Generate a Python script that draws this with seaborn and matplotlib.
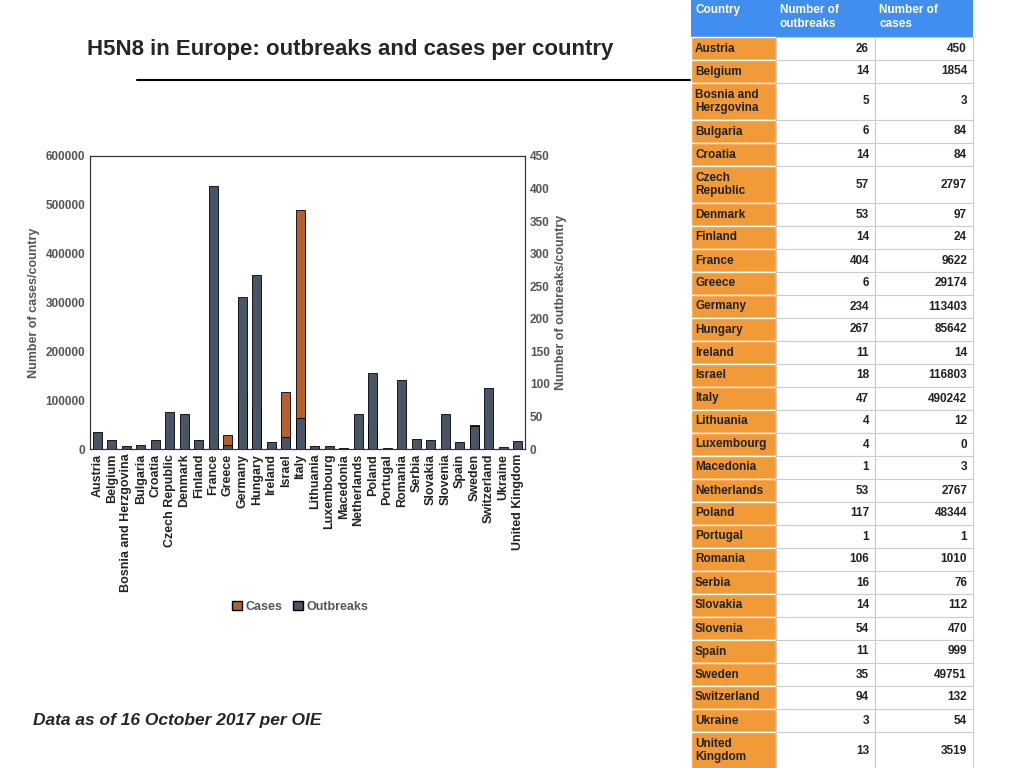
import matplotlib
matplotlib.use("Agg")
import matplotlib.pyplot as plt
import seaborn as sns
import pandas as pd
from matplotlib.patches import Rectangle, Patch

countries = ["Austria", "Belgium", "Bosnia and Herzgovina", "Bulgaria", "Croatia", "Czech Republic",
             "Denmark", "Finland", "France", "Greece", "Germany", "Hungary", "Ireland", "Israel", "Italy",
             "Lithuania", "Luxembourg", "Macedonia", "Netherlands", "Poland", "Portugal", "Romania",
             "Serbia", "Slovakia", "Slovenia", "Spain", "Sweden", "Switzerland", "Ukraine", "United Kingdom"]
table_names = ["Austria", "Belgium", "Bosnia and\nHerzgovina", "Bulgaria", "Croatia", "Czech\nRepublic",
               "Denmark", "Finland", "France", "Greece", "Germany", "Hungary", "Ireland", "Israel", "Italy",
               "Lithuania", "Luxembourg", "Macedonia", "Netherlands", "Poland", "Portugal", "Romania",
               "Serbia", "Slovakia", "Slovenia", "Spain", "Sweden", "Switzerland", "Ukraine", "United\nKingdom"]
outbreaks = [26, 14, 5, 6, 14, 57, 53, 14, 404, 6, 234, 267, 11, 18, 47, 4, 4, 1, 53, 117, 1, 106,
             16, 14, 54, 11, 35, 94, 3, 13]
cases = [450, 1854, 3, 84, 84, 2797, 97, 24, 9622, 29174, 113403, 85642, 14, 116803, 490242, 12, 0, 3,
         2767, 48344, 1, 1010, 76, 112, 470, 999, 49751, 132, 54, 3519]

df = pd.DataFrame({"country": countries, "cases": cases, "outbreaks": outbreaks})
sns.set_theme(style="white")
plt.rcParams['font.family'] = ['Liberation Sans', 'DejaVu Sans']

W, H = 1024, 768
fig = plt.figure(figsize=(10.24, 7.68), dpi=100)
C_CASES = "#b5602c"
C_OUT = "#4a5467"
grey = "#555555"

ax = fig.add_axes([90 / W, (H - 449) / H, 435 / W, 293 / H])
sns.barplot(data=df, x="country", y="cases", color=C_CASES, width=0.6, edgecolor="black",
            linewidth=0.6, saturation=1, ax=ax)
ax.set_ylim(0, 600000)
ax.set_yticks(range(0, 600001, 100000))
ax2 = ax.twinx()
sns.barplot(data=df, x="country", y="outbreaks", color=C_OUT, width=0.6, edgecolor="black",
            linewidth=0.6, saturation=1, ax=ax2)
ax2.set_ylim(0, 450)
ax2.set_yticks(range(0, 451, 50))
ax.set_xlabel("")
ax.set_ylabel("Number of cases/country", fontsize=9, fontweight="bold", color=grey)
ax2.set_ylabel("Number of outbreaks/country", fontsize=9, fontweight="bold", color=grey)
ax.tick_params(axis="x", rotation=90, labelsize=9, colors="#222222", length=0)
for a in (ax, ax2):
    a.tick_params(axis="y", labelsize=8.5, colors=grey, length=0)
    for t in a.get_yticklabels():
        t.set_fontweight("bold")
    for s in a.spines.values():
        s.set_color("#333333")
        s.set_linewidth(0.8)
for t in ax.get_xticklabels():
    t.set_fontweight("bold")

fig.legend(handles=[Patch(facecolor=C_CASES, edgecolor="black", label="Cases"),
                    Patch(facecolor=C_OUT, edgecolor="black", label="Outbreaks")],
           loc="center", bbox_to_anchor=(300 / W, 1 - 607 / H), ncol=2, frameon=False,
           fontsize=9, handlelength=0.8, handletextpad=0.3, columnspacing=0.8,
           prop={"weight": "bold", "size": 9})
for t in fig.legends[0].get_texts():
    t.set_color(grey)

fig.text(87 / W, 1 - 50 / H, "H5N8 in Europe: outbreaks and cases per country", fontsize=16,
         fontweight="bold", va="center", ha="left")
fig.add_artist(plt.Line2D([137 / W, 690 / W], [1 - 80 / H, 1 - 80 / H], color="black", lw=1.5))
fig.text(33 / W, 1 - 720 / H, "Data as of 16 October 2017 per OIE", fontsize=12.5,
         fontweight="bold", style="italic", va="center", ha="left")

# table
tax = fig.add_axes([0, 0, 1, 1])
tax.set_xlim(0, W)
tax.set_ylim(H, 0)
tax.axis("off")
x0, x1, x2, x3 = 691, 776, 875, 973
tax.add_patch(Rectangle((x0, 0), x3 - x0, 37, facecolor="#3f8ef0", edgecolor="none"))
for x, txt in [(x0 + 4, "Country"), (x1 + 4, "Number of\noutbreaks"), (x2 + 4, "Number of\ncases")]:
    tax.text(x, 4, txt, color="white", fontsize=8.5, fontweight="bold", va="top", ha="left")
y = 37
for name, o, c in zip(table_names, outbreaks, cases):
    h = 37 if "\n" in name else 23
    tax.add_patch(Rectangle((x0, y), x1 - x0, h, facecolor="#f19a38", edgecolor="white", lw=1))
    tax.add_patch(Rectangle((x1, y), x2 - x1, h, facecolor="white", edgecolor="#cccccc", lw=0.8))
    tax.add_patch(Rectangle((x2, y), x3 - x2, h, facecolor="white", edgecolor="#cccccc", lw=0.8))
    cy = y + h / 2
    tax.text(x0 + 4, cy, name, fontsize=8.5, fontweight="bold", va="center", ha="left", color="#222222")
    tax.text(x2 - 6, cy, str(o), fontsize=8.5, fontweight="bold", va="center", ha="right", color="#222222")
    tax.text(x3 - 6, cy, str(c), fontsize=8.5, fontweight="bold", va="center", ha="right", color="#222222")
    y += h

fig.savefig("out.png", dpi=100)
